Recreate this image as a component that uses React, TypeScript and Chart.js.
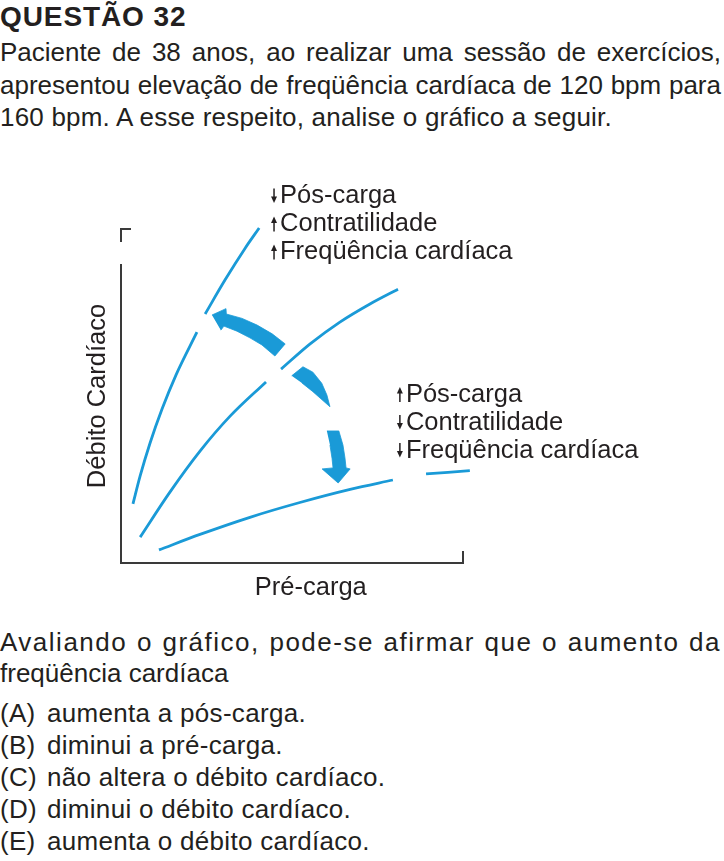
import React, { useEffect, useRef } from "react";
import { Chart, registerables } from "chart.js";

Chart.register(...registerables);

// ---------- data (x: pré-carga 0–100, y: débito cardíaco 0–100) ----------
// upper curve (↓pós-carga, ↑contratilidade, ↑FC), split where the arrow head touches it
const curveHighA: [number, number][] = [
  [3.5, 17.9], [5.6, 26.2], [8.5, 36.0], [12.0, 46.1], [16.1, 56.3], [22.2, 69.0],
];
const curveHighB: [number, number][] = [
  [24.6, 74.4], [30.4, 84.5], [36.3, 94.0], [40.4, 100.0],
];
// middle (baseline) curve, split where the arrows leave it
const curveMidA: [number, number][] = [
  [5.6, 8.0], [14.3, 21.4], [23.1, 33.6], [31.9, 44.0], [42.4, 54.2],
];
const curveMidB: [number, number][] = [
  [46.8, 58.0], [55.3, 65.5], [64.0, 72.0], [72.8, 77.4], [81.0, 81.8],
];
// lower curve (↑pós-carga, ↓contratilidade, ↓FC)
const curveLowA: [number, number][] = [
  [11.1, 4.2], [23.1, 8.8], [37.7, 13.9], [52.3, 18.3], [67.0, 22.2], [79.5, 25.0],
];
const curveLowB: [number, number][] = [
  [89.2, 26.8], [102.0, 27.8],
];
// curved block arrows (outlines)
const arrowUp: [number, number][] = [
  [26.6, 74.1], [30.7, 76.0], [30.8, 74.4], [35.4, 73.1], [39.8, 71.1], [44.2, 68.5],
  [48.0, 65.5], [45.0, 61.9], [41.2, 65.2], [37.7, 67.3], [33.9, 69.3], [30.1, 70.8], [29.2, 69.6],
];
const arrowDownA: [number, number][] = [
  [49.9, 56.0], [53.2, 58.7], [56.1, 57.1], [58.7, 53.8], [60.2, 50.3], [61.1, 46.8],
  [58.2, 49.4], [56.1, 51.3], [52.9, 53.9],
];
const arrowDownB: [number, number][] = [
  [60.2, 39.6], [63.7, 39.6], [64.9, 35.4], [65.5, 31.5], [65.8, 28.6], [67.0, 28.3],
  [63.5, 24.1], [58.8, 28.3], [62.0, 28.6], [61.7, 31.5], [61.1, 35.4],
];

const xTitle = "Pré-carga";
const yTitle = "Débito Cardíaco";
const labelsHigh = ["Pós-carga", "Contratilidade", "Freqüência cardíaca"];
const dirsHigh = ["down", "up", "up"];
const labelsLow = ["Pós-carga", "Contratilidade", "Freqüência cardíaca"];
const dirsLow = ["up", "down", "down"];

const questionTitle = "QUESTÃO 32";
const introLines = [
  "Paciente de 38 anos, ao realizar uma sessão de exercícios,",
  "apresentou elevação de freqüência cardíaca de 120 bpm para",
  "160 bpm. A esse respeito, analise o gráfico a seguir.",
];
const promptLines = [
  "Avaliando o gráfico, pode-se afirmar que o aumento da",
  "freqüência cardíaca",
];
const optionLetters = ["(A)", "(B)", "(C)", "(D)", "(E)"];
const optionTexts = [
  "aumenta a pós-carga.",
  "diminui a pré-carga.",
  "não altera o débito cardíaco.",
  "diminui o débito cardíaco.",
  "aumenta o débito cardíaco.",
];

// ---------- styles ----------
const BLUE = "#1a9ad7";
const INK = "#231f20";
const AXIS = "#3a3a3a";
const FONT = "'Liberation Sans', Arial, Helvetica, sans-serif";

const pts = (a: [number, number][]) => a.map(([x, y]) => ({ x, y }));

const curveDs = (a: [number, number][]) => ({
  data: pts(a),
  showLine: true,
  borderColor: BLUE,
  borderWidth: 2.8,
  pointRadius: 0,
  cubicInterpolationMode: "monotone" as const,
  fill: false,
  clip: false as any,
  borderCapStyle: "butt" as const,
});
const shapeDs = (a: [number, number][]) => ({
  data: pts(a),
  showLine: true,
  borderColor: BLUE,
  backgroundColor: BLUE,
  borderWidth: 0.8,
  pointRadius: 0,
  tension: 0,
  fill: "shape" as any,
  clip: false as any,
});

function drawSmallArrow(ctx: CanvasRenderingContext2D, cx: number, base: number, dir: string) {
  ctx.save();
  ctx.fillStyle = INK;
  ctx.strokeStyle = INK;
  ctx.lineWidth = 1.5;
  ctx.beginPath();
  if (dir === "up") {
    ctx.moveTo(cx, base);
    ctx.lineTo(cx, base - 9);
    ctx.stroke();
    ctx.beginPath();
    ctx.moveTo(cx, base - 15);
    ctx.lineTo(cx - 3, base - 8.5);
    ctx.lineTo(cx + 3, base - 8.5);
  } else {
    ctx.moveTo(cx, base - 15);
    ctx.lineTo(cx, base - 6);
    ctx.stroke();
    ctx.beginPath();
    ctx.moveTo(cx, base - 0.5);
    ctx.lineTo(cx - 3, base - 7);
    ctx.lineTo(cx + 3, base - 7);
  }
  ctx.closePath();
  ctx.fill();
  ctx.restore();
}

const decor = {
  id: "decor",
  afterDatasetsDraw(chart: any) {
    const { ctx, chartArea: a, scales } = chart;
    const xs = scales.x;
    const ys = scales.y;
    ctx.save();
    // axes
    ctx.strokeStyle = AXIS;
    ctx.lineWidth = 2;
    ctx.lineJoin = "miter";
    ctx.beginPath();
    ctx.moveTo(a.left, a.top + 36);
    ctx.lineTo(a.left, a.bottom - 1);
    ctx.lineTo(a.right, a.bottom - 1);
    ctx.lineTo(a.right, a.bottom - 13);
    ctx.stroke();
    ctx.beginPath();
    ctx.moveTo(a.left, a.top + 14);
    ctx.lineTo(a.left, a.top + 1);
    ctx.lineTo(a.left + 10, a.top + 1);
    ctx.stroke();

    ctx.fillStyle = INK;
    ctx.font = `25.5px ${FONT}`;
    ctx.textBaseline = "alphabetic";

    // axis titles
    ctx.textAlign = "center";
    ctx.fillText(xTitle, xs.getPixelForValue(55.5), a.bottom + 31);
    ctx.save();
    ctx.translate(a.left - 16, (a.top + a.bottom) / 2);
    ctx.rotate(-Math.PI / 2);
    ctx.fillText(yTitle, 0, 0);
    ctx.restore();

    // effect labels
    ctx.textAlign = "left";
    const blocks = [
      { labels: labelsHigh, dirs: dirsHigh, x: xs.getPixelForValue(46.5), y: ys.getPixelForValue(107.3) },
      { labels: labelsLow, dirs: dirsLow, x: xs.getPixelForValue(83.3), y: ys.getPixelForValue(48.2) },
    ];
    for (const b of blocks) {
      b.labels.forEach((t, i) => {
        const by = b.y + i * 28;
        ctx.fillText(t, b.x, by);
        drawSmallArrow(ctx, b.x - 6, by, b.dirs[i]);
      });
    }
    ctx.restore();
  },
};

function ChartBox() {
  const ref = useRef<HTMLCanvasElement | null>(null);
  useEffect(() => {
    if (!ref.current) return;
    const chart = new Chart(ref.current, {
      type: "scatter",
      data: {
        datasets: [
          shapeDs(arrowUp),
          shapeDs(arrowDownA),
          shapeDs(arrowDownB),
          curveDs(curveHighA),
          curveDs(curveHighB),
          curveDs(curveMidA),
          curveDs(curveMidB),
          curveDs(curveLowA),
          curveDs(curveLowB),
        ] as any,
      },
      options: {
        responsive: false,
        animation: false,
        events: [],
        layout: { padding: { left: 121, right: 261, top: 68, bottom: 46 } },
        scales: {
          x: { type: "linear", min: 0, max: 100, display: false },
          y: { type: "linear", min: 0, max: 100, display: false },
        },
        plugins: { legend: { display: false }, tooltip: { enabled: false } },
      },
      plugins: [decor],
    });
    return () => chart.destroy();
  }, []);
  return (
    <canvas
      ref={ref}
      width={724}
      height={450}
      style={{ position: "absolute", left: 0, top: 160, width: 724, height: 450 }}
    />
  );
}

const base: React.CSSProperties = {
  position: "absolute",
  left: 0,
  margin: 0,
  fontFamily: FONT,
  fontSize: 26,
  lineHeight: 1,
  color: INK,
  whiteSpace: "pre",
};
const justified: React.CSSProperties = {
  ...base,
  width: 721,
  whiteSpace: "normal",
  textAlign: "justify",
  textAlignLast: "justify" as any,
};

export default function App() {
  const introTops = [38.5, 71.5, 103.5];
  const optionTops = [700, 732, 764, 796, 827.5];
  return (
    <div style={{ position: "absolute", left: 0, top: 0, width: 724, height: 861, background: "#fff", overflow: "hidden" }}>
      <div style={{ ...base, top: 3, fontSize: 28, fontWeight: 700, letterSpacing: 0.9 }}>{questionTitle}</div>
      {introLines.map((t, i) => (
        <div key={t} style={i < 2 ? { ...justified, top: introTops[i] } : { ...base, top: introTops[i], letterSpacing: 0.2 }}>{t}</div>
      ))}
      <ChartBox />
      <div style={{ ...justified, top: 629, letterSpacing: 1.5 }}>{promptLines[0]}</div>
      <div style={{ ...base, top: 660 }}>{promptLines[1]}</div>
      {optionLetters.map((l, i) => (
        <div key={l} style={{ ...base, top: optionTops[i], letterSpacing: 0.3 }}>
          <span style={{ display: "inline-block", width: 47 }}>{l}</span>
          {optionTexts[i]}
        </div>
      ))}
    </div>
  );
}
